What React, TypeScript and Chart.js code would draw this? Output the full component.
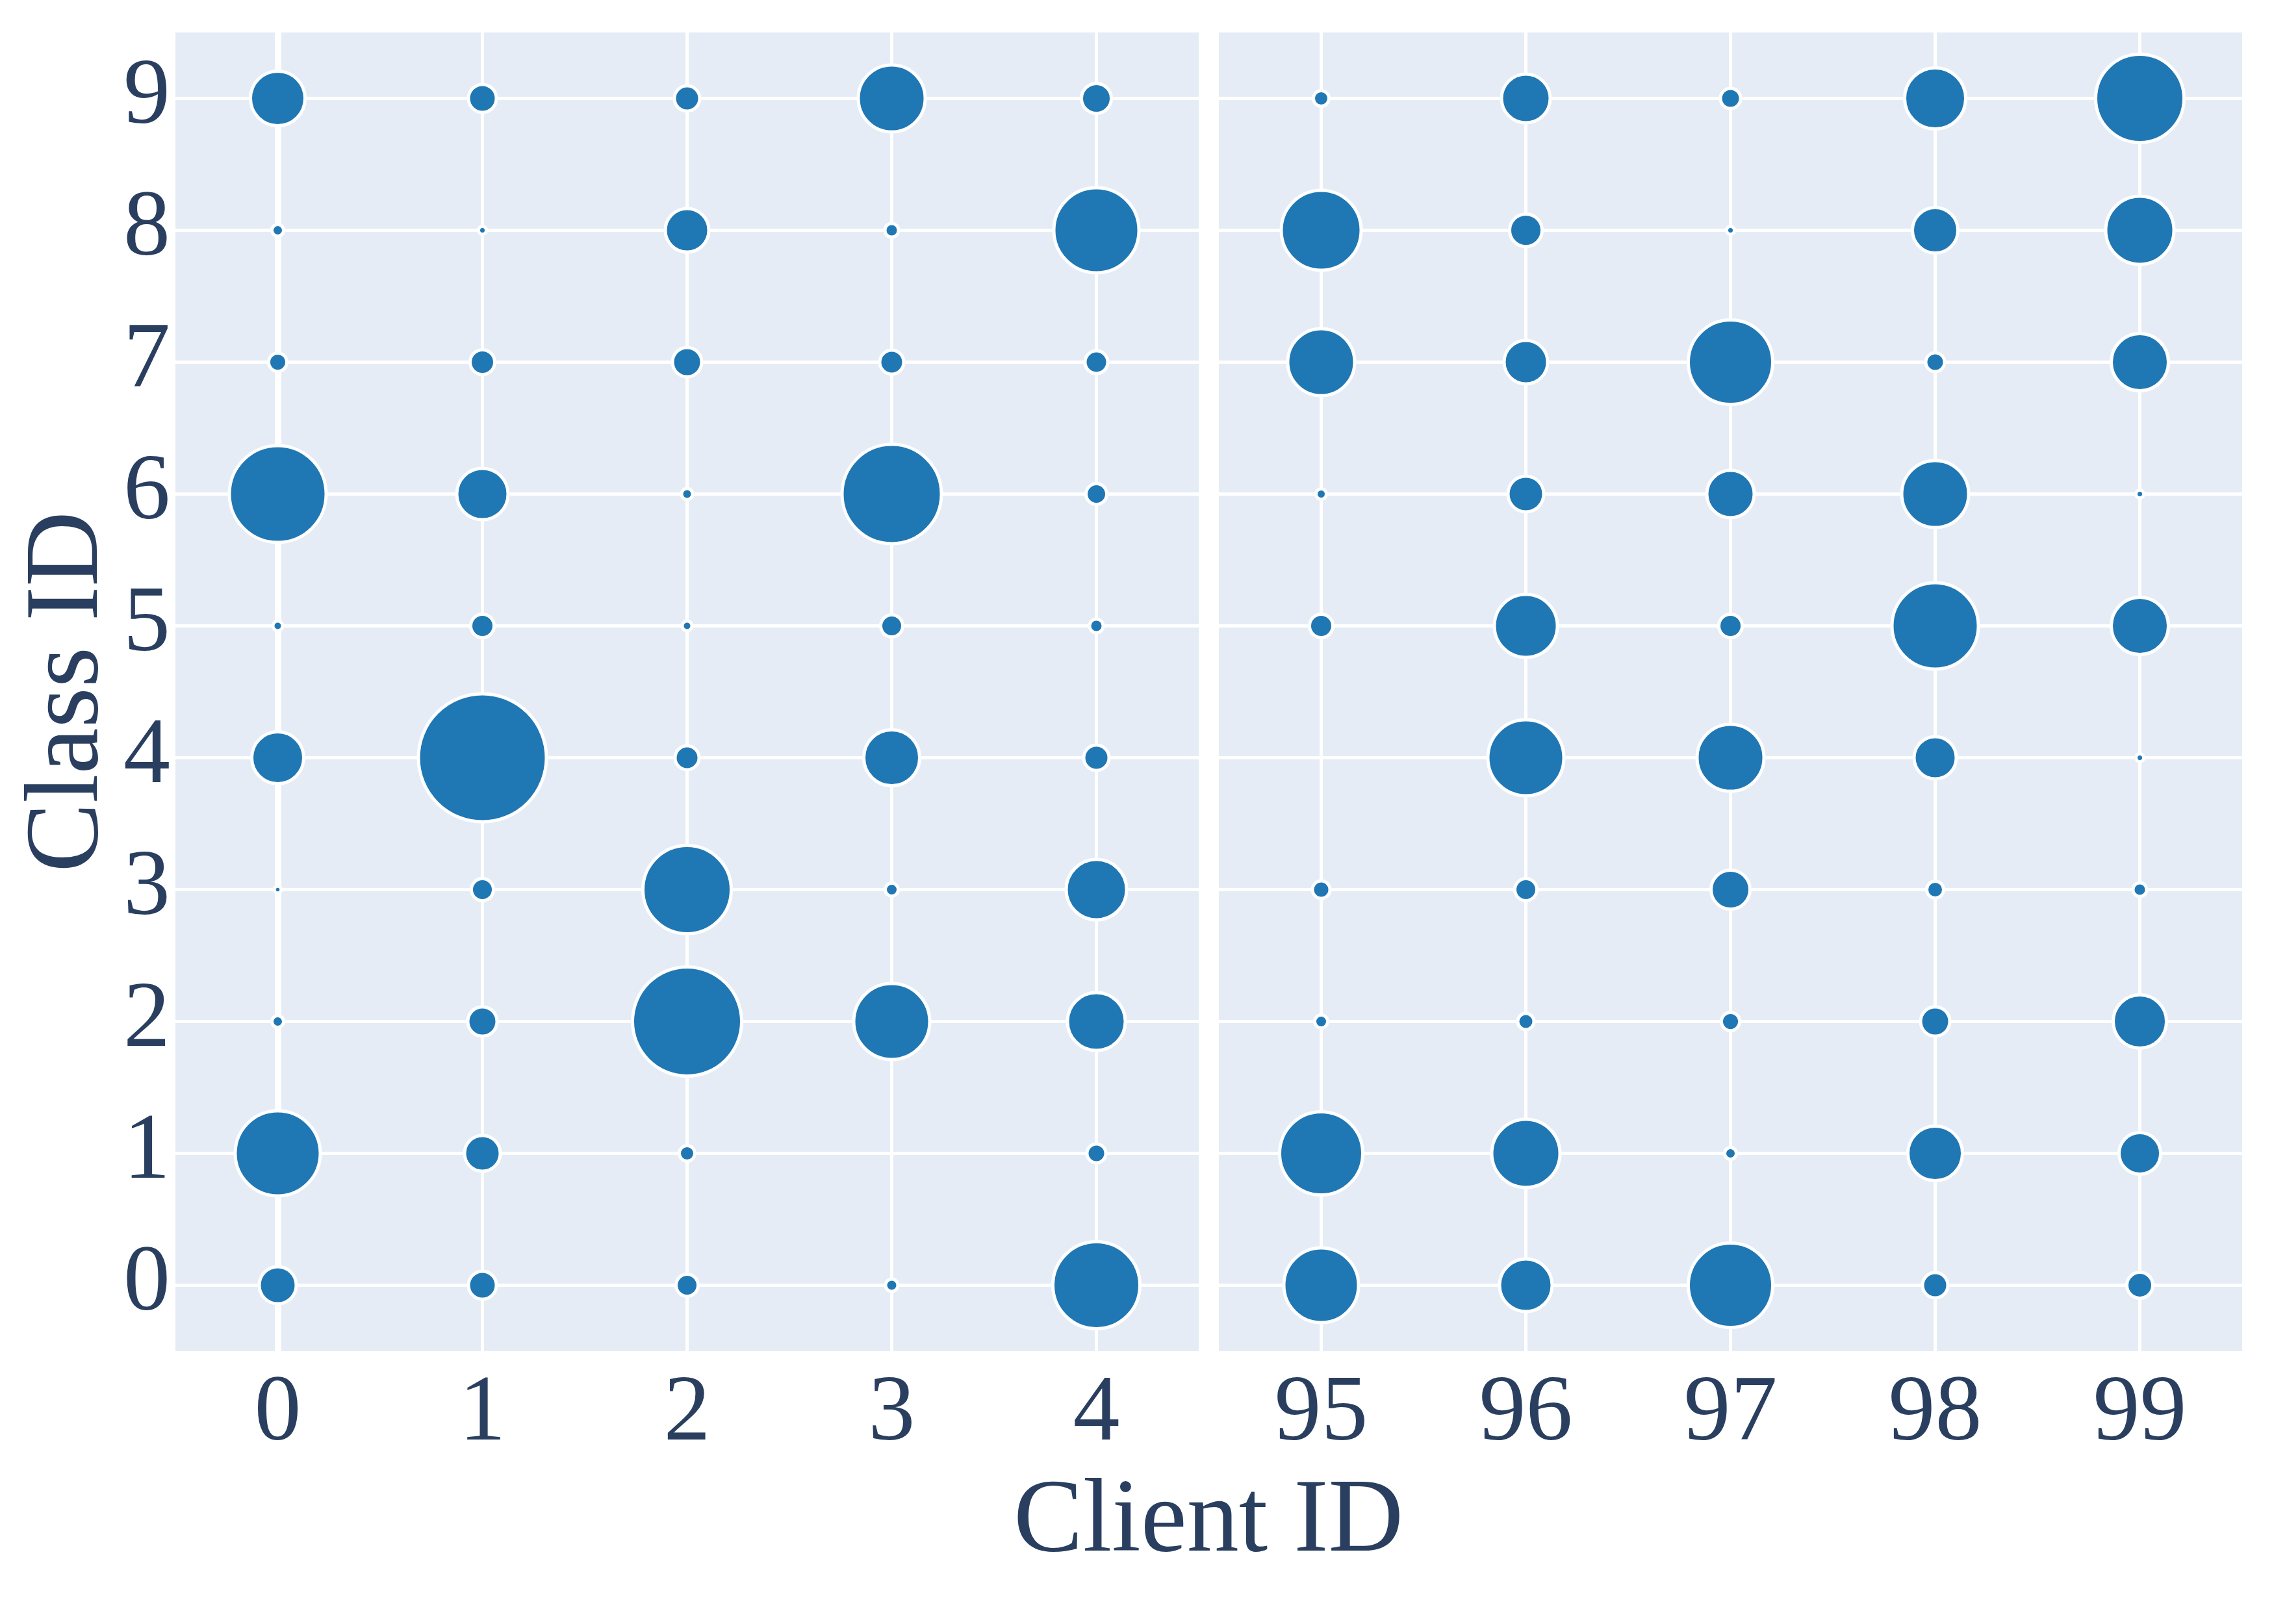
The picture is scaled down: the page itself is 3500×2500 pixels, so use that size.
import React, { useEffect, useRef } from "react";
import { Chart, registerables } from "chart.js";

Chart.register(...registerables);

// ---- data ----
const classIds = [0, 1, 2, 3, 4, 5, 6, 7, 8, 9];
const leftClients = [0, 1, 2, 3, 4];
const rightClients = [95, 96, 97, 98, 99];

// marker diameter per class (index = class id 0..9); 0 = no marker
const client0 = [52, 126, 13, 5.5, 75, 10, 144, 23, 13, 79];
const client1 = [38, 50, 40, 29, 192, 31, 74, 33, 7, 38];
const client2 = [29, 19, 163, 131, 32, 10, 12, 40, 62, 34];
const client3 = [14, 0, 112, 15, 81, 29, 148, 32, 16, 98];
const client4 = [129, 24, 84, 88, 34, 16, 27, 30, 126, 41];
const client95 = [110, 123, 15, 22, 0, 31, 11, 98, 118, 19];
const client96 = [76, 100, 20, 29, 112, 92, 50, 62, 45, 70];
const client97 = [125, 13, 23, 55, 98, 31, 68, 125, 7, 26];
const client98 = [34, 79, 40, 21, 60, 128, 98, 24, 65, 89];
const client99 = [35, 59, 77, 16, 7, 83, 7, 83, 100, 131];

const leftSizes = [client0, client1, client2, client3, client4];
const rightSizes = [client95, client96, client97, client98, client99];

// ---- style ----
const FONT = '"Liberation Serif", "Times New Roman", serif';
const TEXT = "#2a3f5f";
const BG = "#E5ECF6";
const MARK = "#1f77b4";
const BORDER_W = 5;

function buildPoints(clients: number[], sizes: number[][]) {
  const pts: { x: number; y: number; r: number }[] = [];
  clients.forEach((c, i) => {
    classIds.forEach((k, j) => {
      const d = sizes[i][j];
      if (d > 0) pts.push({ x: c, y: k, r: d / 2 + BORDER_W / 2 });
    });
  });
  return pts;
}

const bgPlugin = {
  id: "panelBg",
  beforeDraw(chart: any) {
    const { ctx, chartArea } = chart;
    ctx.save();
    ctx.fillStyle = BG;
    ctx.fillRect(chartArea.left, chartArea.top, chartArea.right - chartArea.left, chartArea.bottom - chartArea.top);
    ctx.restore();
  },
};

const xTitlePlugin = {
  id: "xTitle",
  afterDraw(chart: any) {
    const { ctx } = chart;
    ctx.save();
    ctx.font = `160px ${FONT}`;
    ctx.fillStyle = TEXT;
    ctx.textAlign = "center";
    ctx.textBaseline = "alphabetic";
    ctx.fillText("Client ID", 1860, 2387);
    ctx.restore();
  },
};

function makeConfig(clients: number[], sizes: number[][], isLeft: boolean): any {
  return {
    type: "bubble",
    data: {
      datasets: [
        {
          data: buildPoints(clients, sizes),
          backgroundColor: MARK,
          borderColor: "#ffffff",
          borderWidth: BORDER_W,
          hoverBorderWidth: BORDER_W,
          clip: false,
        },
      ],
    },
    options: {
      animation: false,
      responsive: false,
      events: [],
      layout: {
        autoPadding: false,
        padding: isLeft
          ? { left: 0, top: 50, right: 1655, bottom: 0 }
          : { left: 16, top: 50, right: 49, bottom: 0 },
      },
      plugins: { legend: { display: false }, tooltip: { enabled: false } },
      scales: {
        x: {
          type: "linear",
          min: clients[0] - 0.5,
          max: clients[clients.length - 1] + 0.5,
          afterBuildTicks: (s: any) => {
            s.ticks = clients.map((v) => ({ value: v }));
          },
          afterFit: (s: any) => {
            s.height = 420;
            s.paddingLeft = 0;
            s.paddingRight = 0;
          },
          border: { display: false },
          grid: {
            color: "#ffffff",
            lineWidth: (c: any) => (c.tick && c.tick.value === 0 ? 10 : 5),
            drawTicks: false,
          },
          ticks: {
            color: TEXT,
            font: { family: FONT, size: 144 },
            padding: 12,
            maxRotation: 0,
            autoSkip: false,
            callback: (v: any) => String(v),
          },
        },
        y: {
          type: "linear",
          min: -0.5,
          max: 9.5,
          afterBuildTicks: (s: any) => {
            s.ticks = classIds.map((v) => ({ value: v }));
          },
          afterFit: (s: any) => {
            s.width = isLeft ? 270 : 0;
            s.paddingTop = 0;
            s.paddingBottom = 0;
          },
          border: { display: false },
          grid: { color: "#ffffff", lineWidth: 5, drawTicks: false },
          ticks: {
            display: isLeft,
            color: TEXT,
            font: { family: FONT, size: 144 },
            padding: 8,
            autoSkip: false,
            callback: (v: any) => String(v),
          },
          title: {
            display: isLeft,
            text: "Class ID",
            color: TEXT,
            font: { family: FONT, size: 160 },
            padding: { top: 11, bottom: 0 },
          },
        },
      },
    },
    plugins: isLeft ? [bgPlugin, xTitlePlugin] : [bgPlugin],
  };
}

export default function App() {
  const leftRef = useRef<HTMLCanvasElement | null>(null);
  const rightRef = useRef<HTMLCanvasElement | null>(null);

  useEffect(() => {
    const a = new Chart(leftRef.current as HTMLCanvasElement, makeConfig(leftClients, leftSizes, true));
    const b = new Chart(rightRef.current as HTMLCanvasElement, makeConfig(rightClients, rightSizes, false));
    return () => {
      a.destroy();
      b.destroy();
    };
  }, []);

  return (
    <div style={{ position: "absolute", left: 0, top: 0, width: 3500, height: 2500, background: "#ffffff" }}>
      <canvas
        ref={leftRef}
        width={3500}
        height={2500}
        style={{ position: "absolute", left: 0, top: 0, width: 3500, height: 2500 }}
      />
      <canvas
        ref={rightRef}
        width={1640}
        height={2500}
        style={{ position: "absolute", left: 1860, top: 0, width: 1640, height: 2500 }}
      />
    </div>
  );
}
